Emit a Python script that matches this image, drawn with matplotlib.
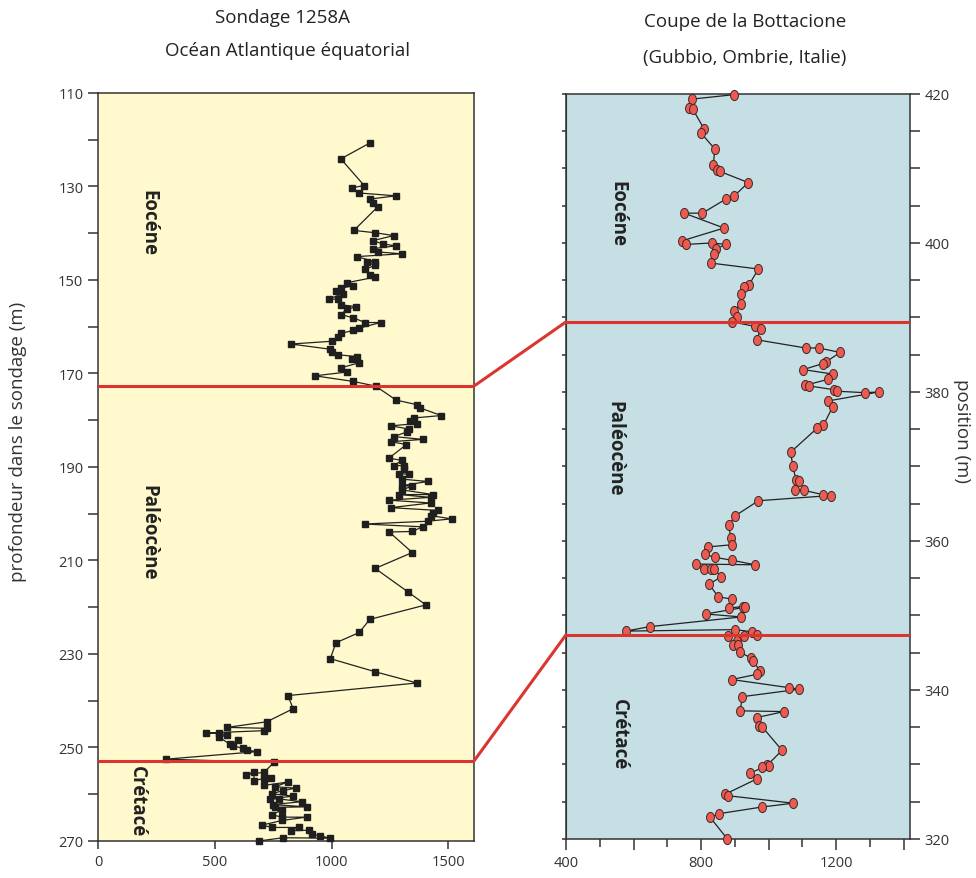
import matplotlib.pyplot as plt
import numpy as np
from matplotlib.path import Path
from matplotlib.patches import ConnectionPatch
from matplotlib.ticker import MultipleLocator, FixedLocator, FixedFormatter

plt.rcParams["font.family"] = ["Open Sans", "DejaVu Sans"]

# Sondage 1258A : valeur (axe x) et profondeur (m)
site_val = [1164, 1040, 1140, 1086, 1119, 1276, 1164, 1178, 1197, 1096, 1187, 1266,
            1177, 1221, 1276, 1177, 1197, 1300, 1109, 1186, 1153, 1186, 1144, 1164,
            1186, 1065, 1093, 1039, 1021, 1050, 988, 1029, 1039, 1107, 1065, 1039,
            1094, 1143, 1210, 1119, 1094, 1040, 1029, 1004, 826, 993, 1004, 1029,
            1109, 1086, 1119, 1040, 1065, 929, 1093, 1189,
            1277, 1368, 1381, 1470, 1355, 1336, 1368, 1254, 1334, 1323, 1267, 1391,
            1254, 1321, 1246, 1301, 1267, 1310, 1310, 1289, 1334, 1301, 1413, 1301,
            1346, 1301, 1436, 1289, 1424, 1246, 1424, 1254, 1458, 1436, 1424, 1514,
            1413, 1143, 1390, 1346, 1247, 1346, 1187, 1327, 1404, 1164, 1119, 1019,
            995, 1187, 1366, 813, 836, 723, 553, 723, 711, 462, 519, 553, 519, 565,
            598, 579, 619, 636, 679, 291,
            753, 712, 634, 668, 668, 712, 743, 712, 812, 758, 846, 793, 745, 836,
            736, 775, 872, 748, 893, 758, 789, 745, 789, 893, 789, 702, 745, 859,
            825, 904, 916, 950, 994, 793, 689]
site_depth = [120.7, 124.1, 129.8, 130.3, 131.4, 132.0, 132.7, 133.5, 134.4, 139.4, 139.9, 140.5,
              141.6, 142.3, 142.7, 143.3, 144.0, 144.4, 145.0, 146.1, 146.2, 146.9, 147.7, 148.9,
              149.4, 150.6, 151.2, 151.8, 152.4, 152.9, 154.1, 154.1, 155.3, 155.7, 156.3, 157.4,
              158.1, 159.1, 159.1, 160.3, 160.8, 161.4, 162.3, 163.1, 163.7, 164.8, 165.3, 166.0,
              166.4, 167.0, 167.7, 168.8, 169.7, 170.5, 171.7, 172.7,
              175.7, 176.7, 177.4, 179.0, 179.5, 180.2, 180.7, 181.2, 181.9, 182.5, 183.5, 184.1,
              184.6, 185.2, 188.1, 188.6, 189.7, 189.7, 190.4, 191.5, 191.5, 192.6, 193.1, 194.0,
              194.1, 194.9, 195.9, 195.9, 196.5, 197.1, 197.7, 198.7, 199.3, 199.8, 200.4, 201.1,
              201.6, 202.2, 202.8, 203.8, 203.9, 208.3, 211.7, 216.7, 219.5, 222.6, 225.4, 227.6,
              231.0, 233.8, 236.2, 238.9, 241.7, 244.5, 245.7, 245.9, 246.4, 246.9, 247.0, 247.3, 247.8, 249.3,
              248.5, 249.6, 250.2, 250.5, 250.9, 252.5,
              253.2, 255.3, 255.8, 255.3, 257.1, 256.6, 256.6, 258.1, 257.4, 258.4, 258.7, 259.2, 259.9, 260.4,
              261.0, 261.0, 261.6, 262.2, 262.7, 262.8, 263.3, 264.4, 264.9, 264.9, 265.6, 266.6, 267.1, 267.1,
              267.8, 267.7, 268.5, 268.9, 269.4, 269.3, 270.0]

# Coupe de la Bottacione : valeur (axe x) et position (m)
gub_val = [897, 772, 765, 775, 809, 799, 841, 836, 848, 856, 940, 898, 874, 804, 750, 868,
           745, 756, 832, 873, 844, 838, 829, 970, 941, 927, 918, 918, 897, 906, 892,
           960, 977, 965, 1110, 1149, 1212, 1169, 1160, 1103, 1190, 1177, 1109, 1121, 1194,
           1202, 1286, 1327, 1177, 1190, 1162, 1143, 1065, 1072, 1081, 1090, 1079, 1105,
           1162, 1185, 970, 902, 882, 888, 893, 821, 812, 841, 893, 960, 785, 809, 829, 839,
           860, 824, 851, 891, 883, 924, 930, 814, 919, 648, 577, 902, 952, 965, 881, 928,
           906, 894, 909, 914, 948, 953, 975, 965, 891, 1062, 1091, 922, 916, 1046, 965,
           972, 982, 1040, 996, 1002, 982, 945, 967, 871, 881, 1073, 982, 854, 827, 878]
gub_pos = [419.9, 419.3, 418.1, 418.0, 415.3, 414.8, 412.6, 410.4, 409.8, 409.6, 408.1, 406.3,
           405.9, 404.0, 404.0, 402.0, 400.3, 399.8, 400.0, 399.8, 399.2, 398.5, 397.3, 396.5,
           394.3, 394.1, 393.1, 391.8, 390.9, 390.0, 389.4,
           388.8, 388.5, 387.0, 385.9, 385.9, 385.3, 384.0, 383.8, 383.0, 382.4, 381.7, 380.9,
           380.8, 380.3, 380.1, 379.9, 380.0, 378.8, 378.0, 375.5, 375.1, 371.9, 370.1, 368.2,
           368.0, 366.9, 366.8, 366.2, 366.1, 365.4, 363.4, 362.1, 360.4, 359.5, 359.2, 358.2,
           357.8, 357.4, 356.8, 356.9, 356.3, 356.2, 356.2, 355.2, 354.2, 352.5, 352.2, 351.0,
           351.2, 351.1, 350.2, 349.8, 348.5, 347.9, 348.1, 347.8, 347.4, 347.3, 347.2, 346.6,
           346.1, 346.0, 345.1, 344.3, 343.9, 342.6, 342.1, 341.4, 340.3, 340.1, 339.1, 337.2,
           337.1, 336.3, 335.2, 335.0, 331.9, 329.9, 329.8, 329.6, 328.8, 328.1, 326.0, 325.8,
           324.8, 324.3, 323.4, 322.9, 320.0]

# limites d'étages (Eocène/Paléocène, Paléocène/Crétacé)
site_bounds = [172.7, 252.9]
gub_bounds = [389.4, 347.4]

RED = "#DB3530"
INK = "#333333"
FS = 13.5

fig = plt.figure(figsize=(9.76, 8.79), dpi=100)
axL = fig.add_axes([0.1004, 0.0421, 0.3852, 0.851])
axR = fig.add_axes([0.5799, 0.0444, 0.3525, 0.8476])

# ---- left panel
axL.set_facecolor("#FFF9CD")
axL.plot(site_val, site_depth, color="#222222", lw=0.9, marker="s", ms=4.8,
         mfc="#1f1f1f", mec="#1f1f1f", clip_on=False, zorder=3)
axL.set_xlim(0, 1610)
axL.set_ylim(270, 110)
axL.xaxis.set_major_locator(FixedLocator([0, 500, 1000, 1500]))
axL.yaxis.set_major_locator(FixedLocator(np.arange(110, 271, 20)))
axL.yaxis.set_minor_locator(FixedLocator(np.arange(120, 270, 20)))
axL.tick_params(which="both", direction="out", length=7, width=1.1, color=INK,
                labelsize=10.5, labelcolor=INK)
axL.tick_params(axis="x", length=6)
axL.set_ylabel("profondeur dans le sondage (m)", fontsize=FS, color=INK)
axL.yaxis.set_label_coords(-0.19, 0.535)
for b in site_bounds:
    axL.axhline(b, color=RED, lw=2.2, zorder=4)

stage_kw = dict(rotation=-90, fontsize=FS, fontweight="bold", ha="center",
                va="center", color="#222222")
axL.text(0.133, 0.828, "Eocéne", transform=axL.transAxes, **stage_kw)
axL.text(0.133, 0.414, "Paléocène", transform=axL.transAxes, **stage_kw)
axL.text(0.104, 0.054, "Crétacé", transform=axL.transAxes, **stage_kw)

# ---- right panel
axR.set_facecolor("#C5DFE5")
ell = Path.unit_circle()
ell = Path(ell.vertices * np.array([0.78, 1.0]), ell.codes)
axR.plot(gub_val, gub_pos, color="#222222", lw=0.9, marker=ell, ms=7.3,
         mfc="#EE5A4F", mec="#3a2a2a", mew=0.7, clip_on=False, zorder=3)
axR.set_xlim(400, 1419)
axR.set_ylim(320, 420)
axR.xaxis.set_major_locator(FixedLocator([400, 600, 800, 1000, 1200, 1400]))
axR.xaxis.set_major_formatter(FixedFormatter(["400", "", "800", "", "1200", ""]))
axR.xaxis.set_minor_locator(MultipleLocator(100))
axR.yaxis.set_major_locator(MultipleLocator(20))
axR.yaxis.set_minor_locator(MultipleLocator(5))
axR.tick_params(which="both", direction="out", width=1.1, color=INK,
                labelsize=10.5, labelcolor=INK)
axR.tick_params(axis="x", which="major", length=8)
axR.tick_params(axis="x", which="minor", length=6)
axR.tick_params(axis="y", which="both", left=False, labelleft=False,
                right=True, labelright=True, length=7)
sec = axR.secondary_yaxis("left")
sec.yaxis.set_major_locator(MultipleLocator(5))
sec.tick_params(direction="out", length=3, width=1.1, color=INK, labelleft=False)
sec.spines["left"].set_color(INK)
for b in gub_bounds:
    axR.axhline(b, color=RED, lw=2.2, zorder=4)

axR.text(0.148, 0.84, "Eocéne", transform=axR.transAxes, **stage_kw)
axR.text(0.14, 0.525, "Paléocène", transform=axR.transAxes, **stage_kw)
axR.text(0.155, 0.142, "Crétacé", transform=axR.transAxes, **stage_kw)

for ax in (axL, axR):
    for s in ax.spines.values():
        s.set_color(INK)
        s.set_linewidth(1.1)

# red links between the two sections
for a, b in zip(site_bounds, gub_bounds):
    con = ConnectionPatch(xyA=(1, a), coordsA=axL.get_yaxis_transform(),
                          xyB=(0, b), coordsB=axR.get_yaxis_transform(),
                          color=RED, lw=2.2)
    fig.add_artist(con)

# titles
fig.text(0.289, 0.9795, "Sondage 1258A", ha="center", va="center", fontsize=FS, color="#222")
fig.text(0.295, 0.942, "Océan Atlantique équatorial", ha="center", va="center",
         fontsize=FS, color="#222")
fig.text(0.763, 0.975, "Coupe de la Bottacione", ha="center", va="center", fontsize=FS, color="#222")
fig.text(0.763, 0.934, "(Gubbio, Ombrie, Italie)", ha="center", va="center", fontsize=FS, color="#222")
fig.text(0.986, 0.51, "position (m)", rotation=-90, ha="center", va="center",
         fontsize=FS, color=INK)

fig.savefig("out.png", dpi=100)
